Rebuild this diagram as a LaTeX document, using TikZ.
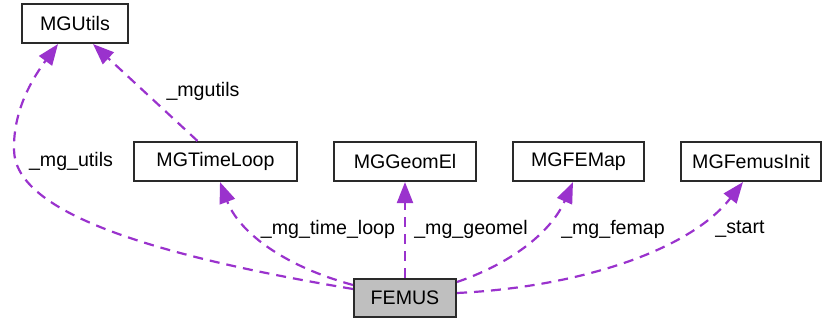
\documentclass[tikz,border=0pt]{standalone}
\usepackage{fontspec}
\setmainfont{Liberation Sans}
\usetikzlibrary{arrows.meta,calc}
\definecolor{edgecol}{HTML}{9A32CD}
\definecolor{boxline}{HTML}{2A2A2A}
\tikzset{
  cls/.style={draw=boxline, line width=2.1pt, rectangle, inner sep=0pt, minimum height=39pt, font=\fontsize{19.6}{23}\selectfont, text=black},
  dep/.style={draw=edgecol, line width=2.2pt, dash pattern=on 10pt off 7pt, -{Triangle[length=21pt,width=16pt,fill=edgecol]}},
  lbl/.style={font=\fontsize{19.6}{23}\selectfont, text=black, inner sep=0pt}
}
\begin{document}
\begin{tikzpicture}[x=1pt,y=-1pt]
\useasboundingbox (0,0) rectangle (823,320);
\node[cls, minimum width=106pt] (mgutils) at (75,23.5) {MGUtils};
\node[cls, minimum width=163pt] (timeloop) at (215.5,161.5) {MGTimeLoop};
\node[cls, minimum width=142pt] (geomel) at (405,161.5) {MGGeomEl};
\node[cls, minimum width=131pt] (femap) at (578.5,161.5) {MGFEMap};
\node[cls, minimum width=140pt] (femusinit) at (751,161.5) {MGFemusInit};
\node[cls, minimum width=102pt, minimum height=38pt, fill=black!25] (femus) at (405,298) {FEMUS};

\coordinate (u1) at ($(femus.west)+(0,-9)$);
\coordinate (u2) at ($(mgutils.south)+(-17,0)$);
\draw[dep] (u1) .. controls (150,255) and (15,212) .. (14,150) .. controls (13,108) and (35,75) .. (u2);
\node[lbl] (lmgutils) at (71,161) {\_mg\_utils};

\coordinate (t1) at ($(timeloop.north)+(-18,0)$);
\coordinate (t2) at ($(mgutils.south)+(18,0)$);
\draw[dep] (t1) -- (t2);
\node[lbl] (lmgutils2) at (203,91) {\_mgutils};

\coordinate (l1) at ($(femus.west)+(0,-13)$);
\coordinate (l2) at ($(timeloop.south)+(4.5,0)$);
\draw[dep] (l1) .. controls (280,265) and (238,230) .. (l2);
\node[lbl] (ltl) at (328,229) {\_mg\_time\_loop};

\draw[dep] (femus.north) -- (geomel.south);
\node[lbl] (lge) at (471,229) {\_mg\_geomel};

\coordinate (f1) at ($(femus.east)+(0,-16)$);
\coordinate (f2) at ($(femap.south)+(-5.5,0)$);
\draw[dep] (f1) .. controls (515,262) and (552,230) .. (f2);
\node[lbl] (lfe) at (613,229) {\_mg\_femap};

\coordinate (s1) at ($(femus.east)+(0,-5)$);
\coordinate (s2) at ($(femusinit.south)+(-8,0)$);
\draw[dep] (s1) .. controls (580,287) and (690,250) .. (s2);
\node[lbl] (lst) at (740,229) {\_start};
\end{tikzpicture}
\end{document}
